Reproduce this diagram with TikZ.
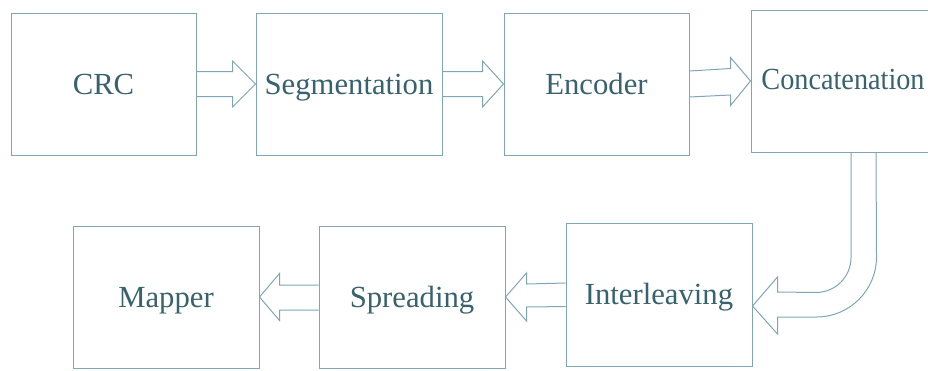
\documentclass[tikz,border=0pt]{standalone}
\usepackage{fontspec}
\setmainfont{Liberation Serif}
\usetikzlibrary{calc}
\definecolor{boxline}{RGB}{128,166,182}
\definecolor{boxtext}{RGB}{56,98,110}
\tikzset{
  block/.style={draw=boxline, line width=1pt, rectangle, fill=none,
    text=boxtext, font=\fontsize{30.7}{34}\selectfont,
    text height=22pt, text depth=2pt, inner sep=0pt},
  barrow/.style={draw=boxline, line width=1pt, line join=miter}
}
\begin{document}
\begin{tikzpicture}[x=1pt, y=-1pt]
  \useasboundingbox (0,0) rectangle (928,370);
  \fill[white] (0,0) rectangle (928,370);
  \clip (0,0) rectangle (928,370);

  % processing blocks, top row
  \node[block, minimum width=185, minimum height=142] (crc)    at (103.5,84) {CRC};
  \node[block, minimum width=186, minimum height=142] (seg)    at (349,84)   {Segmentation};
  \node[block, minimum width=185, minimum height=142] (enc)    at (596.5,84) {Encoder};
  \node[block, minimum width=184, minimum height=142, text depth=6pt] (concat) at (843,81) {\scalebox{0.92}[1]{Concatenation}};
  % processing blocks, bottom row
  \node[block, minimum width=186, minimum height=142] (mapper) at (166,297)   {Mapper};
  \node[block, minimum width=186, minimum height=142] (spread) at (412,297)   {Spreading};
  \node[block, minimum width=186, minimum height=143] (inter)  at (659,294.5) {Interleaving};

  % hollow arrows, left to right
  \draw[barrow] ($(crc.east)+(0,-12.5)$) -- ($(seg.west)+(-23,-12.5)$) -- ($(seg.west)+(-23,-23)$)
      -- (seg.west) -- ($(seg.west)+(-23,23)$) -- ($(seg.west)+(-23,12.5)$) -- ($(crc.east)+(0,12.5)$);
  \draw[barrow] ($(seg.east)+(0,-12.5)$) -- ($(enc.west)+(-21,-12.5)$) -- ($(enc.west)+(-21,-23)$)
      -- (enc.west) -- ($(enc.west)+(-21,23)$) -- ($(enc.west)+(-21,12.5)$) -- ($(seg.east)+(0,12.5)$);
  \draw[barrow] ($(enc.east)+(0,-13)$) -- ($(concat.west)+(-20,-12.5)$) -- ($(concat.west)+(-20,-23.5)$)
      -- (concat.west) -- ($(concat.west)+(-20,24.5)$) -- ($(concat.west)+(-20,14)$) -- ($(enc.east)+(0,13)$);

  % bent hollow arrow down into the bottom row
  \draw[barrow] ($(concat.south)+(8,0)$) -- ++(0,105) arc[start angle=0, end angle=90, radius=35]
      -- ($(inter.east)+(25,-2.5)$) -- ($(inter.east)+(25,-17.5)$) -- ($(inter.east)+(0,11.5)$)
      -- ($(inter.east)+(25,39.5)$) -- ($(inter.east)+(25,22.5)$) -- ++(39,0)
      arc[start angle=90, end angle=0, radius=60] -- ($(concat.south)+(33,0)$);

  % hollow arrows, right to left
  \draw[barrow] ($(inter.west)+(0,-11.5)$) -- ($(spread.east)+(21,-13)$) -- ($(spread.east)+(21,-24)$)
      -- (spread.east) -- ($(spread.east)+(21,24)$) -- ($(spread.east)+(21,10)$) -- ($(inter.west)+(0,12)$);
  \draw[barrow] ($(spread.west)+(0,-12)$) -- ($(mapper.east)+(20,-12)$) -- ($(mapper.east)+(20,-23.5)$)
      -- (mapper.east) -- ($(mapper.east)+(20,23.5)$) -- ($(mapper.east)+(20,13)$) -- ($(spread.west)+(0,13)$);
\end{tikzpicture}
\end{document}
